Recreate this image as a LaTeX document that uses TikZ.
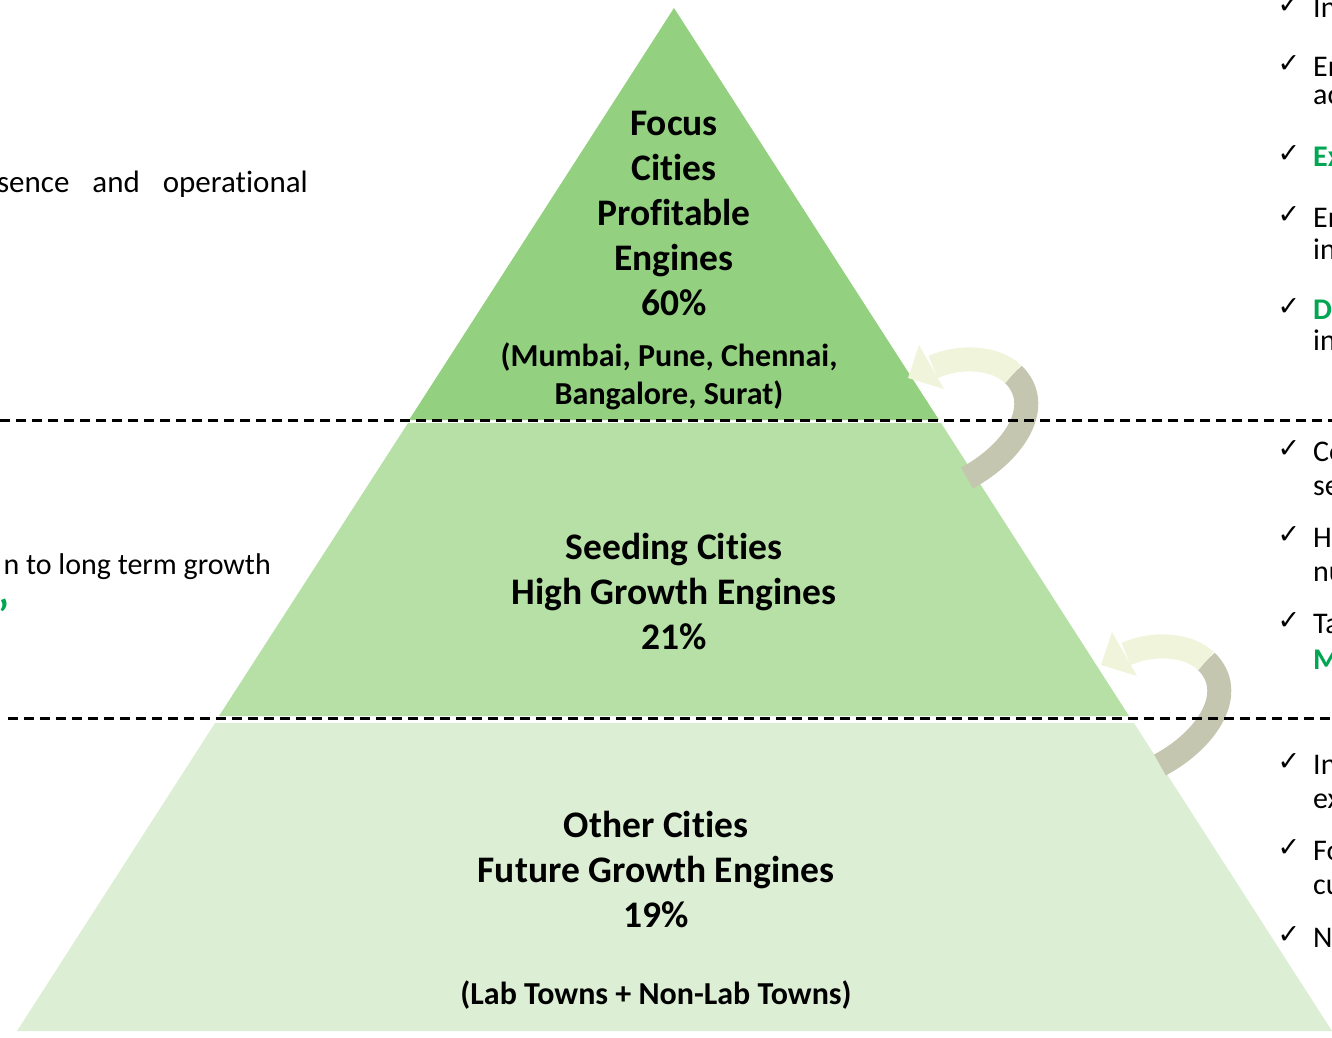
\documentclass[tikz,border=0pt]{standalone}
\usepackage{fontspec}
\setmainfont{Carlito}[Ligatures=NoCommon]
\newfontfamily\checkfont{DejaVu Sans}
\usepackage{xcolor}
\definecolor{pyTop}{HTML}{93D07F}
\definecolor{pyMid}{HTML}{B6E0A6}
\definecolor{pyLow}{HTML}{DCEFD5}
\definecolor{pyFade}{HTML}{F0F4DA}
\definecolor{pyTail}{HTML}{C4C6B0}
\definecolor{pyGreen}{HTML}{00A651}
\tikzset{
  tiertext/.style={font=\fontsize{37.5}{45}\selectfont\bfseries, align=center, inner sep=0pt},
  tiernote/.style={font=\fontsize{32}{38}\selectfont\bfseries, align=center, inner sep=0pt},
  sidetext/.style={font=\fontsize{31}{37}\selectfont, inner sep=0pt},
  bullettext/.style={font=\fontsize{30}{36}\selectfont, anchor=west, inner sep=0pt},
  checkmark/.style={font=\checkfont\fontsize{27}{30}\selectfont, inner sep=0pt},
  divider/.style={line width=3pt, dash pattern=on 10pt off 6pt},
  cycletail/.style={draw=pyTail, line width=24pt},
  cyclefade/.style={draw=pyFade, line width=24pt},
  pics/cyclearrow/.style={code={
    \draw[cycletail] (0,0) .. controls (48,-26) and (78,-73) .. (46,-104);
    \draw[cyclefade] (46,-104) .. controls (28,-121) and (-7,-123) .. (-34,-111);
    \fill[pyFade] (-59,-100) -- (-48,-133) -- (-23,-89) -- cycle;
  }}
}

\begin{document}
\begin{tikzpicture}[x=1pt, y=-1pt]
  \useasboundingbox (0,0) rectangle (1332,1037);

  % pyramid tiers
  \fill[pyTop] (674,8) -- (939,420) -- (409,420) -- cycle;
  \fill[pyMid] (408,423) -- (941,423) -- (1129,716) -- (219,716) -- cycle;
  \fill[pyLow] (215,723) -- (1134,723) -- (1332,1031) -- (17,1031) -- cycle;

  % promotion arrows
  \pic at (967,478) {cyclearrow};
  \pic at (1160,765) {cyclearrow};

  \draw[divider] (0,420) -- (1332,420);
  \draw[divider] (8,718) -- (1332,718);

  \node[tiertext] (focus) at (674,213) {Focus\\Cities\\Profitable\\Engines\\60\%};
  \node[tiernote] (focuslist) at (669,376) {(Mumbai, Pune, Chennai,\\Bangalore, Surat)};
  \node[tiertext] (seeding) at (674,591) {Seeding Cities\\High Growth Engines\\21\%};
  \node[tiertext] (other) at (656,869) {Other Cities\\Future Growth Engines\\19\%};
  \node[tiernote] (otherlist) at (656,995) {(Lab Towns + Non-Lab Towns)};

  % left column (cut off)
  \node[sidetext, anchor=east] (presence) at (308,184) {sence\hspace{23pt}and\hspace{23pt}operational};
  \node[sidetext, anchor=east, font=\fontsize{30}{36}\selectfont] (growth) at (271,567) {n to long term growth};
  \node[sidetext, font=\fontsize{42}{46}\selectfont\bfseries, text=pyGreen] (quote) at (4,614) {’};

  % right column (cut off)
  \foreach \y [count=\i] in {5,64,154,215,307,449,535,621,762,848,935}
    \node[checkmark] (tick\i) at (1289,\y) {✓};
  \foreach \y/\txt [count=\i] in {8/In, 67/En, 97/ac, 157/{\textcolor{pyGreen}{\bfseries Ex}},
      218/En, 249/in, 310/{\textcolor{pyGreen}{\bfseries D}}, 340/in,
      452/Co, 488/se, 538/H, 574/nu, 624/Ta, 660/{\textcolor{pyGreen}{\bfseries M}},
      765/In, 801/ex, 851/Fo, 887/cu, 938/N}
    \node[bullettext] (line\i) at (1313,\y) {\txt};
\end{tikzpicture}
\end{document}
